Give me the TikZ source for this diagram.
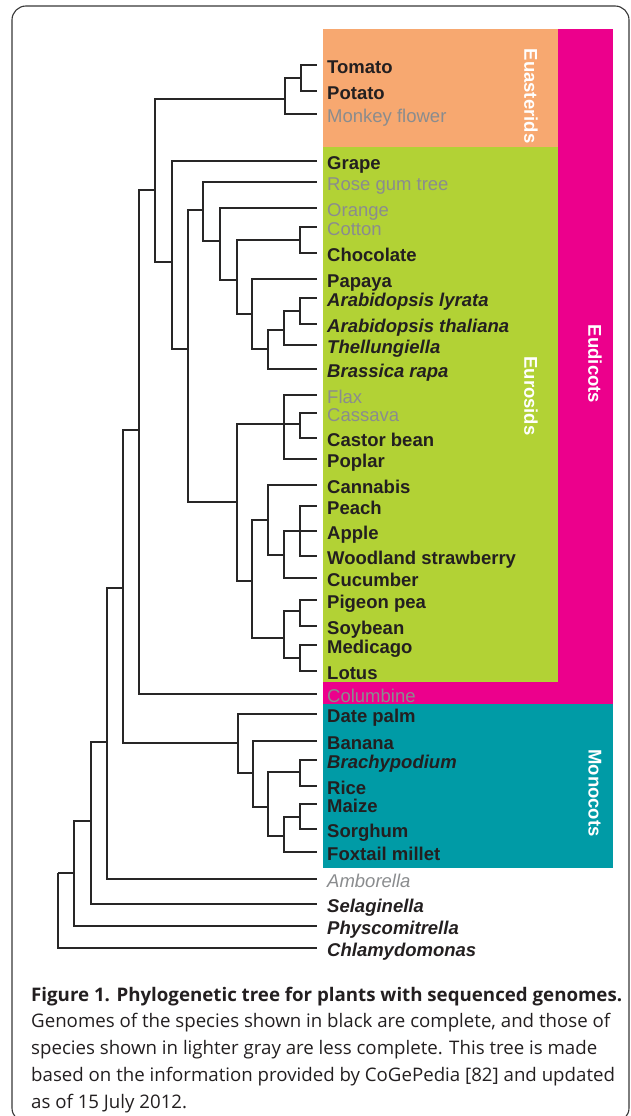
\documentclass[tikz,border=0pt]{standalone}
\usepackage{fontspec}
\setmainfont{Liberation Sans}
\newfontfamily\captfont{Open Sans}
\definecolor{txtblack}{RGB}{35,31,32}
\definecolor{txtgray}{RGB}{138,140,142}
\definecolor{linecol}{RGB}{40,38,38}
\definecolor{orangebox}{RGB}{247,168,112}
\definecolor{greenbox}{RGB}{178,210,53}
\definecolor{magbox}{RGB}{236,0,140}
\definecolor{tealbox}{RGB}{0,155,166}
\definecolor{framecol}{RGB}{55,55,55}
\newlength\capwa
\newlength\capwb
\newcommand\leafnode[4]{\coordinate (#1) at (317,#2); \node[#3] (#1-t) at (327,#2+8.5) {#4};}
\begin{document}
\settowidth\capwa{\captfont\fontsize{10}{12}\selectfont Genomes of the species shown in black are complete, and those of}%
\settowidth\capwb{\captfont\bfseries\fontsize{10}{12}\selectfont Figure 1. Phylogenetic tree for plants with sequenced genomes.}%
\pgfmathsetmacro\capsz{10*579/\capwa}%
\pgfmathsetmacro\capszb{10*591/\capwb}%
\begin{tikzpicture}[x=1pt,y=-1pt,
  br/.style={line width=1.1pt, draw=linecol},
  spb/.style={anchor=base west, inner sep=0pt, text=txtblack, font=\fontsize{18.5}{20}\selectfont\bfseries},
  spi/.style={anchor=base west, inner sep=0pt, text=txtblack, font=\fontsize{18.5}{20}\selectfont\bfseries\itshape},
  spg/.style={anchor=base west, inner sep=0pt, text=txtgray, font=\fontsize{18.5}{20}\selectfont},
  spgi/.style={anchor=base west, inner sep=0pt, text=txtgray, font=\fontsize{18.5}{20}\selectfont\itshape},
  grp/.style={rotate=-90, inner sep=0pt, text=white, font=\fontsize{18.5}{20}\selectfont\bfseries},
  capb/.style={anchor=base west, inner sep=0pt, text=txtblack},
  capn/.style={anchor=base west, inner sep=0pt, text=txtblack}]
\useasboundingbox (0,0) rectangle (630,1116);
% frame
\draw[framecol, line width=1.1pt, rounded corners=14pt] (12,6) rectangle (629,1122);
% coloured clade boxes
\fill[orangebox] (323,29) rectangle (558,147);
\fill[greenbox] (323,147) rectangle (558,682);
\fill[magbox] (558,29) rectangle (613,704);
\fill[magbox] (323,682) rectangle (558,704);
\fill[tealbox] (323,704) rectangle (613,868);
\node[grp] (euast) at (531,96) {Euasterids};
\node[grp] (euros) at (531,396) {Eurosids};
\node[grp] (eudic) at (595,364) {Eudicots};
\node[grp] (monoc) at (595,793) {Monocots};
% leaves
\leafnode{tomato}{65}{spb}{Tomato}
\leafnode{potato}{91}{spb}{Potato}
\leafnode{monkey}{114}{spg}{Monkey flower}
\leafnode{grape}{161}{spb}{Grape}
\leafnode{rosegum}{182}{spg}{Rose gum tree}
\leafnode{orange}{208}{spg}{Orange}
\leafnode{cotton}{227}{spg}{Cotton}
\leafnode{chocolate}{253}{spb}{Chocolate}
\leafnode{papaya}{279}{spb}{Papaya}
\leafnode{alyrata}{298}{spi}{Arabidopsis lyrata}
\leafnode{athaliana}{324}{spi}{Arabidopsis thaliana}
\leafnode{thell}{345}{spi}{Thellungiella}
\leafnode{brassica}{369}{spi}{Brassica rapa}
\leafnode{flax}{395}{spg}{Flax}
\leafnode{cassava}{413}{spg}{Cassava}
\leafnode{castor}{438}{spb}{Castor bean}
\leafnode{poplar}{459}{spb}{Poplar}
\leafnode{cannabis}{485}{spb}{Cannabis}
\leafnode{peach}{506}{spb}{Peach}
\leafnode{apple}{531}{spb}{Apple}
\leafnode{woodland}{556}{spb}{Woodland strawberry}
\leafnode{cucumber}{578}{spb}{Cucumber}
\leafnode{pigeon}{600}{spb}{Pigeon pea}
\leafnode{soybean}{626}{spb}{Soybean}
\leafnode{medicago}{645}{spb}{Medicago}
\leafnode{lotus}{671}{spb}{Lotus}
\leafnode{columbine}{694}{spg}{Columbine}
\leafnode{datepalm}{714}{spb}{Date palm}
\leafnode{banana}{741}{spb}{Banana}
\leafnode{brachy}{760}{spi}{Brachypodium}
\leafnode{rice}{786}{spb}{Rice}
\leafnode{maize}{804}{spb}{Maize}
\leafnode{sorghum}{829}{spb}{Sorghum}
\leafnode{foxtail}{852}{spb}{Foxtail millet}
\leafnode{amborella}{879}{spgi}{Amborella}
\leafnode{selaginella}{904}{spi}{Selaginella}
\leafnode{physco}{926}{spi}{Physcomitrella}
\leafnode{chlamy}{948}{spi}{Chlamydomonas}
% internal nodes
\coordinate (tp) at (301,78);
\coordinate (eua) at (285,99);
\coordinate (nB) at (155,190);
\coordinate (nC) at (172,262);
\coordinate (nD) at (188,349);
\coordinate (nE) at (203,210);
\coordinate (nF) at (220,241);
\coordinate (nG) at (237,280);
\coordinate (nH) at (300,240);
\coordinate (nI) at (252,314);
\coordinate (nJ) at (268,349);
\coordinate (nK) at (284,330);
\coordinate (nL) at (300,311);
\coordinate (nM) at (237,502);
\coordinate (nN) at (284,424);
\coordinate (nCC) at (300,424);
\coordinate (nO) at (252,581);
\coordinate (nP) at (268,520);
\coordinate (nQ) at (284,555);
\coordinate (nR) at (300,531);
\coordinate (nS) at (284,638);
\coordinate (nS1) at (300,611);
\coordinate (nS2) at (300,658);
\coordinate (nA) at (139,430);
\coordinate (nT) at (123,588);
\coordinate (nU) at (238,743);
\coordinate (nV) at (253,773);
\coordinate (nW) at (268,807);
\coordinate (nW1) at (300,772);
\coordinate (nX) at (284,836);
\coordinate (nX1) at (300,817);
\coordinate (nY) at (107,742);
\coordinate (nZ) at (91,821);
\coordinate (nR2) at (74,873);
\coordinate (root) at (58,873);
% branches
\draw[br] (tp) |- (tomato) (tp) |- (potato);
\draw[br] (eua) |- (tp) (eua) |- (monkey);
\draw[br] (nB) |- (eua) (nB) |- (nC);
\draw[br] (nC) |- (grape) (nC) |- (nD);
\draw[br] (nD) |- (nE) (nD) |- (nM);
\draw[br] (nE) |- (rosegum) (nE) |- (nF);
\draw[br] (nF) |- (orange) (nF) |- (nG);
\draw[br] (nG) |- (nH) (nG) |- (nI);
\draw[br] (nH) |- (cotton) (nH) |- (chocolate);
\draw[br] (nI) |- (papaya) (nI) |- (nJ);
\draw[br] (nJ) |- (nK) (nJ) |- (brassica);
\draw[br] (nK) |- (nL) (nK) |- (thell);
\draw[br] (nL) |- (alyrata) (nL) |- (athaliana);
\draw[br] (nM) |- (nN) (nM) |- (nO);
\draw[br] (nN) |- (flax) (nN) |- (nCC) (nN) |- (poplar);
\draw[br] (nCC) |- (cassava) (nCC) |- (castor);
\draw[br] (nO) |- (nP) (nO) |- (nS);
\draw[br] (nP) |- (cannabis) (nP) |- (nQ);
\draw[br] (nQ) |- (nR) (nQ) |- (cucumber);
\draw[br] (nR) |- (peach) (nR) |- (apple) (nR) |- (woodland);
\draw[br] (nS) |- (nS1) (nS) |- (nS2);
\draw[br] (nS1) |- (pigeon) (nS1) |- (soybean);
\draw[br] (nS2) |- (medicago) (nS2) |- (lotus);
\draw[br] (nA) |- (nB) (nA) |- (columbine);
\draw[br] (nT) |- (nA) (nT) |- (nU);
\draw[br] (nU) |- (datepalm) (nU) |- (nV);
\draw[br] (nV) |- (banana) (nV) |- (nW);
\draw[br] (nW) |- (nW1) (nW) |- (nX);
\draw[br] (nW1) |- (brachy) (nW1) |- (rice);
\draw[br] (nX) |- (nX1) (nX) |- (foxtail);
\draw[br] (nX1) |- (maize) (nX1) |- (sorghum);
\draw[br] (nY) |- (nT) (nY) |- (amborella);
\draw[br] (nZ) |- (nY) (nZ) |- (selaginella);
\draw[br] (nR2) |- (nZ) (nR2) |- (physco);
\draw[br] (root) |- (nR2) (root) |- (chlamy);
% caption
\node[capb, font=\captfont\bfseries\fontsize{\capszb}{\capszb}\selectfont] (cap1) at (31,1001) {Figure 1. Phylogenetic tree for plants with sequenced genomes.};
\node[capn, font=\captfont\fontsize{\capsz}{\capsz}\selectfont] (cap2) at (31,1027) {Genomes of the species shown in black are complete, and those of};
\node[capn, font=\captfont\fontsize{\capsz}{\capsz}\selectfont] (cap3) at (31,1054) {species shown in lighter gray are less complete. This tree is made};
\node[capn, font=\captfont\fontsize{\capsz}{\capsz}\selectfont] (cap4) at (31,1081) {based on the information provided by CoGePedia [82] and updated};
\node[capn, font=\captfont\fontsize{\capsz}{\capsz}\selectfont] (cap5) at (31,1108) {as of 15 July 2012.};
\end{tikzpicture}
\end{document}
